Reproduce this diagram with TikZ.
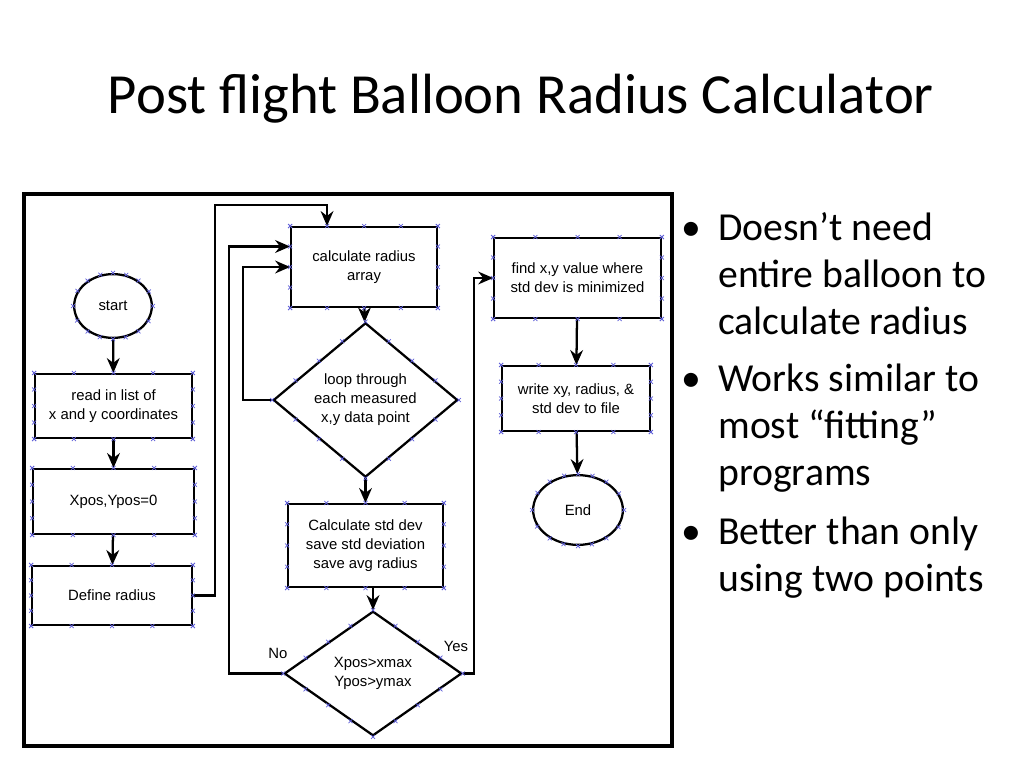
\documentclass[tikz,border=0pt]{standalone}
\usepackage{fontspec}
\setmainfont{Carlito}
\newfontfamily\chartfont{Liberation Sans}
\usetikzlibrary{shapes.geometric,arrows.meta,calc}
\definecolor{markblue}{RGB}{95,95,215}
\tikzset{
  box/.style={draw,line width=1.6pt,inner sep=0pt,align=center,
    font=\chartfont\fontsize{10.5}{13.4}\selectfont},
  term/.style={box,ellipse},
  test/.style={box,diamond},
  flow/.style={line width=1.6pt,-{Stealth[length=10.5pt,width=9pt]}},
  lbl/.style={inner sep=0pt,font=\chartfont\fontsize{10.5}{13.4}\selectfont},
  bul/.style={anchor=base west,inner sep=0pt,font=\fontsize{28}{33}\selectfont},
  xm/.pic={\draw[markblue,line width=0.5pt] (-2,-2) -- (2,2) (-2,2) -- (2,-2);}
}
% little blue crosses on the shape borders
\newcommand\boxmarks[1]{%
  \foreach \t in {0,0.25,0.5,0.75,1}{%
    \path ($(#1.north west)!\t!(#1.north east)$) pic{xm}
          ($(#1.south west)!\t!(#1.south east)$) pic{xm}
          ($(#1.north west)!\t!(#1.south west)$) pic{xm}
          ($(#1.north east)!\t!(#1.south east)$) pic{xm};}}
\newcommand\diamarks[1]{%
  \foreach \t in {0,0.25,0.5,0.75}{%
    \path ($(#1.north)!\t!(#1.east)$) pic{xm}
          ($(#1.east)!\t!(#1.south)$) pic{xm}
          ($(#1.south)!\t!(#1.west)$) pic{xm}
          ($(#1.west)!\t!(#1.north)$) pic{xm};}}
\newcommand\ovalmarks[1]{%
  \foreach \a in {0,22.5,...,337.5}{\path (#1.\a) pic{xm};}}
\begin{document}
\begin{tikzpicture}[x=0.0248cm,y=-0.0248cm]
\useasboundingbox (0,0) rectangle (1024,768);
\node[anchor=base,inner sep=0pt,font=\fontsize{40}{48}\selectfont] (title) at (521,114) {Post flight Balloon Radius Calculator};
\draw[line width=2.2pt] (24,194) rectangle (672,746);
% left column
\node[term,minimum width=54.8pt,minimum height=45pt] (start) at (113,306) {start};
\node[box,minimum width=110.4pt,minimum height=45pt] (read) at (113.5,406) {read in list of\\x and y coordinates};
\node[box,minimum width=113.2pt,minimum height=45.7pt] (zero) at (113.5,501.5) {Xpos,Ypos=0};
\node[box,minimum width=112.5pt,minimum height=41.5pt] (radius) at (112,595.5) {Define radius};
% middle column
\node[box,minimum width=102.7pt,minimum height=56.25pt] (calc) at (364,267) {calculate radius\\array};
\node[test,minimum width=130pt,minimum height=97pt] (loop) at (365.5,400) {loop through\\each measured\\x,y data point};
\node[box,minimum width=109pt,minimum height=58.4pt] (stats) at (365.5,545.5) {Calculate std dev\\save std deviation\\save avg radius};
\node[test,minimum width=125.2pt,minimum height=87.9pt] (check) at (373,673.5) {Xpos>xmax\\Ypos>ymax};
% right column
\node[box,minimum width=117.4pt,minimum height=56.25pt] (find) at (577.5,278) {find x,y value where\\std dev is minimized};
\node[box,minimum width=104pt,minimum height=45.7pt] (write) at (576,398.5) {write xy, radius, \&\\std dev to file};
\node[term,minimum width=63.3pt,minimum height=49.2pt] (stop) at (578,510) {End};
\node[lbl] (lno) at (278,653) {No};
\node[lbl] (lyes) at (456,646) {Yes};
% connectors
\draw[flow] (start) -- (read);
\draw[flow] (read) -- (zero);
\draw[flow] (zero) -- (radius);
\draw[flow] (radius.east) -| (215,205) -| ($(calc.north west)!.25!(calc.north east)$);
\draw[flow] (calc) -- (loop);
\draw[flow] (loop.west) -- ++(-29,0) |- (calc.west);
\draw[flow] (loop) -- (stats);
\draw[flow] (stats.south -| check.north) -- (check.north);
\draw[flow] (check.west) -- ++(-54,0) |- ($(calc.north west)!.25!(calc.south west)$);
\draw[flow] (check.east) -- ++(11,0) |- (find.west);
\draw[flow] (find) -- (write);
\draw[flow] (write) -- (stop);
\foreach \n in {read,zero,radius,calc,stats,find,write} {\boxmarks{\n}}
\diamarks{loop}
\diamarks{check}
\ovalmarks{start}
\ovalmarks{stop}
% bullets
\node[bul] (b1) at (681,240) {•};
\node[bul] (t1) at (718,240) {Doesn’t need};
\node[bul] (t2) at (718,287) {entire balloon to};
\node[bul] (t3) at (718,334) {calculate radius};
\node[bul] (b2) at (681,391) {•};
\node[bul] (t4) at (718,391) {Works similar to};
\node[bul] (t5) at (718,438) {most “fitting”};
\node[bul] (t6) at (718,485) {programs};
\node[bul] (b3) at (681,544) {•};
\node[bul] (t7) at (718,544) {Better than only};
\node[bul] (t8) at (718,591) {using two points};
\end{tikzpicture}
\end{document}
